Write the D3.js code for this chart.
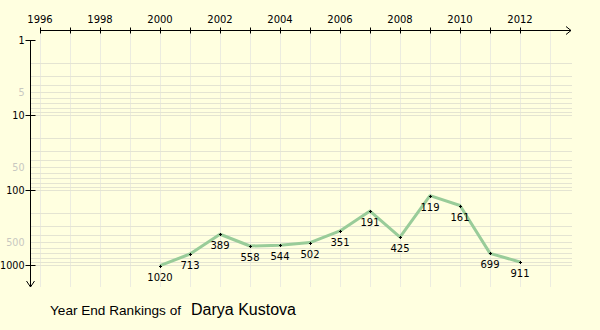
<!DOCTYPE html>
<html><head><meta charset="utf-8">
<script src="https://cdn.jsdelivr.net/npm/d3@7"></script>
<style>
html,body{margin:0;padding:0;background:#FFFFE0;}
svg{display:block;}
</style></head>
<body>
<script>
const years = [2000,2001,2002,2003,2004,2005,2006,2007,2008,2009,2010,2011,2012];
const ranks = [1020,713,389,558,544,502,351,191,425,119,161,699,911];
const yearTicks = [1996,1998,2000,2002,2004,2006,2008,2010,2012];
const rankMajor = [1,10,100,1000];
const rankMinorLabels = [5,50,500];
const playerName = "Darya Kustova";
const titleText = "Year End Rankings of";

(function(){
const W=600,H=330;
const svg=d3.select("body").append("svg").attr("width",W).attr("height",H);
svg.append("rect").attr("width",W).attr("height",H).attr("fill","#FFFFE0");

const x=d3.scaleLinear().domain([1996,2012]).range([40,520]);
const y=d3.scaleLog().domain([1,1000]).range([40,265]);
const axisY=30, axisX=30;
const font="DejaVu Sans, Verdana, sans-serif";

// grid
const grid=svg.append("g");
const allYears=d3.range(1996,2014);
grid.selectAll("line.v").data(allYears).join("line")
 .attr("x1",d=>x(d)+0.5).attr("x2",d=>x(d)+0.5).attr("y1",axisY).attr("y2",287)
 .attr("stroke","#ecece0").attr("stroke-width",1);
const hvals=[];
for(const dec of [1,10,100]) for(let k=2;k<=10;k++) hvals.push(dec*k);
grid.selectAll("line.h").data(hvals).join("line")
 .attr("x1",axisX).attr("x2",572).attr("y1",d=>Math.round(y(d))+0.5).attr("y2",d=>Math.round(y(d))+0.5)
 .attr("stroke","#e4e4d2").attr("stroke-width",1);

// top axis
const topAx=svg.append("g").attr("transform",`translate(0,${axisY+0.5})`);
topAx.append("line").attr("x1",40).attr("x2",571).attr("stroke","#000");
topAx.append("path").attr("d","M566,-4 L571,0 L566,4").attr("fill","none").attr("stroke","#000");
topAx.selectAll("line.t").data(allYears.filter(d=>d<=2012)).join("line")
 .attr("x1",d=>x(d)+0.5).attr("x2",d=>x(d)+0.5).attr("y1",-3).attr("y2",3).attr("stroke","#000");
topAx.selectAll("text").data(yearTicks).join("text")
 .attr("x",d=>x(d)).attr("y",-8).attr("text-anchor","middle")
 .attr("font-family",font).attr("font-size",10).attr("fill","#000").text(d=>d);

// left axis
const leftAx=svg.append("g").attr("transform",`translate(${axisX+0.5},0)`);
leftAx.append("line").attr("y1",y(1)).attr("y2",287).attr("stroke","#000");
leftAx.append("path").attr("d","M-4,281 L0,287 L4,281").attr("fill","none").attr("stroke","#000");
leftAx.selectAll("line.t").data(rankMajor).join("line")
 .attr("x1",-5).attr("x2",5).attr("y1",d=>Math.round(y(d))+0.5).attr("y2",d=>Math.round(y(d))+0.5).attr("stroke","#000");
leftAx.selectAll("text.maj").data(rankMajor).join("text")
 .attr("x",-6).attr("y",d=>y(d)+4).attr("text-anchor","end")
 .attr("font-family",font).attr("font-size",9.6).attr("fill","#000").text(d=>d);
leftAx.selectAll("text.min").data(rankMinorLabels).join("text")
 .attr("x",-6).attr("y",d=>y(d)+4).attr("text-anchor","end")
 .attr("font-family",font).attr("font-size",9.6).attr("fill","#c8c8c0").text(d=>d);

// line
const data=years.map((yr,i)=>({yr,r:ranks[i]}));
svg.append("path").datum(data)
 .attr("d",d3.line().x(d=>x(d.yr)).y(d=>y(d.r)))
 .attr("fill","none").attr("stroke","#99CC99").attr("stroke-width",3).attr("stroke-linejoin","round");
svg.selectAll("path.pt").data(data).join("path")
 .attr("d",d=>{const cx=Math.round(x(d.yr))+0.5, cy=Math.round(y(d.r))+0.5;
   return `M${cx-1.5},${cy}H${cx+1.5}M${cx},${cy-1.5}V${cy+1.5}`;})
 .attr("stroke","#000").attr("stroke-width",1);
svg.selectAll("text.lbl").data(data).join("text")
 .attr("x",d=>x(d.yr)).attr("y",d=>y(d.r)+15).attr("text-anchor","middle")
 .attr("font-family",font).attr("font-size",10).attr("fill","#000").text(d=>d.r);

// title
svg.append("text").attr("x",50).attr("y",315).attr("font-family","Liberation Sans, Arial, sans-serif")
 .attr("font-size",13.6).attr("fill","#000").text(titleText);
svg.append("text").attr("x",191).attr("y",315).attr("font-family","Liberation Sans, Arial, sans-serif")
 .attr("font-size",16).attr("fill","#000").text(playerName);
})();
</script>
</body></html>
